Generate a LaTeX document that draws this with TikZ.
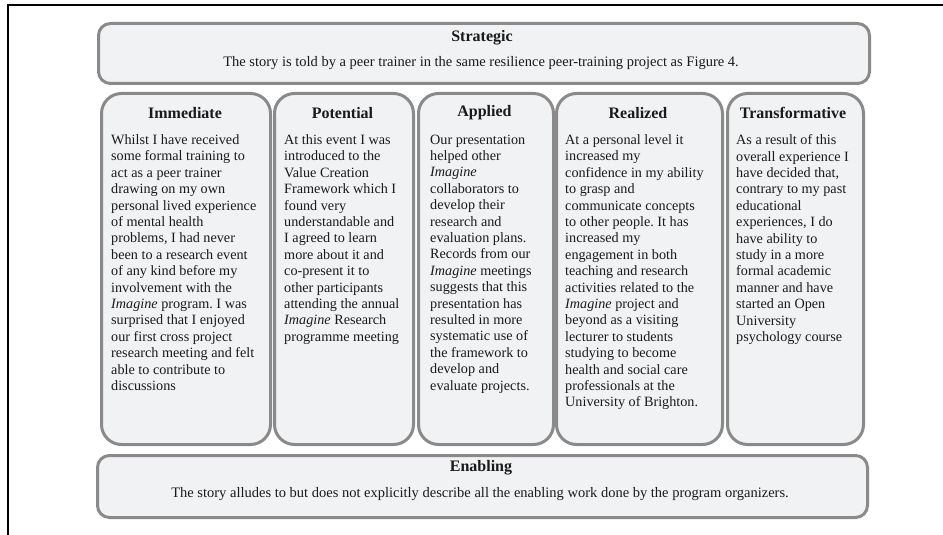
\documentclass[tikz,border=0pt]{standalone}
\usepackage{fontspec}
\setmainfont{Liberation Serif}
\frenchspacing
\definecolor{boxfill}{HTML}{F1F2F4}
\definecolor{boxline}{HTML}{8A8A8A}
\definecolor{txt}{HTML}{1A1A1A}
\begin{document}
\begin{tikzpicture}[x=1pt,y=-1pt,
  panel/.style={draw=boxline,fill=boxfill,line width=3pt,rounded corners=#1,anchor=north west,inner sep=0pt},
  ttl/.style={font={\fontsize{16}{18}\selectfont\bfseries},text=txt,inner sep=0pt},
  body/.style={font={\fontsize{14.2}{16.4}\selectfont},text=txt,inner sep=0pt,align=left,anchor=north west},
  line/.style={font={\fontsize{14.5}{17}\selectfont},text=txt,inner sep=0pt}]
\useasboundingbox (0,0) rectangle (943,535);
\coordinate (fa) at (8,535);
\coordinate (fb) at (8,5.5);
\coordinate (fc) at (943,5.5);
\draw[line width=2pt] (fa) -- (fb) -- (fc);

% Strategic
\node[panel=12pt,minimum width=771pt,minimum height=60pt] (strat) at (97,22) {};
\node[ttl] (stratT) at (482,38) {Strategic};
\node[line] (stratX) at (481,63) {The story is told by a peer trainer in the same resilience peer-training project as Figure 4.};

% Enabling
\node[panel=12pt,minimum width=770pt,minimum height=62pt] (enab) at (96,454) {};
\node[ttl] (enabT) at (481,468) {Enabling};
\node[line] (enabX) at (480,494) {The story alludes to but does not explicitly describe all the enabling work done by the program organizers.};

% Columns
\node[panel=20pt,minimum width=169pt,minimum height=351pt] (c1) at (100,92) {};
\node[panel=20pt,minimum width=139pt,minimum height=351pt] (c2) at (273,92) {};
\node[panel=20pt,minimum width=135pt,minimum height=351pt] (c3) at (417,92) {};
\node[panel=20pt,minimum width=166pt,minimum height=351pt] (c4) at (555,92) {};
\node[panel=20pt,minimum width=136pt,minimum height=351pt] (c5) at (726,92) {};

\node[ttl] (c1T) at (185,113) {Immediate};
\node[ttl] (c2T) at (342.5,113) {Potential};
\node[ttl] (c3T) at (484.5,113) {Applied};
\node[ttl] (c4T) at (638,113) {Realized};
\node[ttl] (c5T) at (793,113) {Transformative};

\node[body] (c1X) at (111,134.5) {Whilst I have received\\some formal training to\\act as a peer trainer\\drawing on my own\\personal lived experience\\of mental health\\problems, I had never\\been to a research event\\of any kind before my\\involvement with the\\\textit{Imagine} program. I was\\surprised that I enjoyed\\our first cross project\\research meeting and felt\\able to contribute to\\discussions};
\node[body] (c2X) at (284,134.5) {At this event I was\\introduced to the\\Value Creation\\Framework which I\\found very\\understandable and\\I agreed to learn\\more about it and\\co-present it to\\other participants\\attending the annual\\\textit{Imagine} Research\\programme meeting};
\node[body] (c3X) at (430,134.5) {Our presentation\\helped other\\\textit{Imagine}\\collaborators to\\develop their\\research and\\evaluation plans.\\Records from our\\\textit{Imagine} meetings\\suggests that this\\presentation has\\resulted in more\\systematic use of\\the framework to\\develop and\\evaluate projects.};
\node[body] (c4X) at (565,134.5) {At a personal level it\\increased my\\confidence in my ability\\to grasp and\\communicate concepts\\to other people. It has\\increased my\\engagement in both\\teaching and research\\activities related to the\\\textit{Imagine} project and\\beyond as a visiting\\lecturer to students\\studying to become\\health and social care\\professionals at the\\University of Brighton.};
\node[body] (c5X) at (736,134.5) {As a result of this\\overall experience I\\have decided that,\\contrary to my past\\educational\\experiences, I do\\have ability to\\study in a more\\formal academic\\manner and have\\started an Open\\University\\psychology course};
\end{tikzpicture}
\end{document}
